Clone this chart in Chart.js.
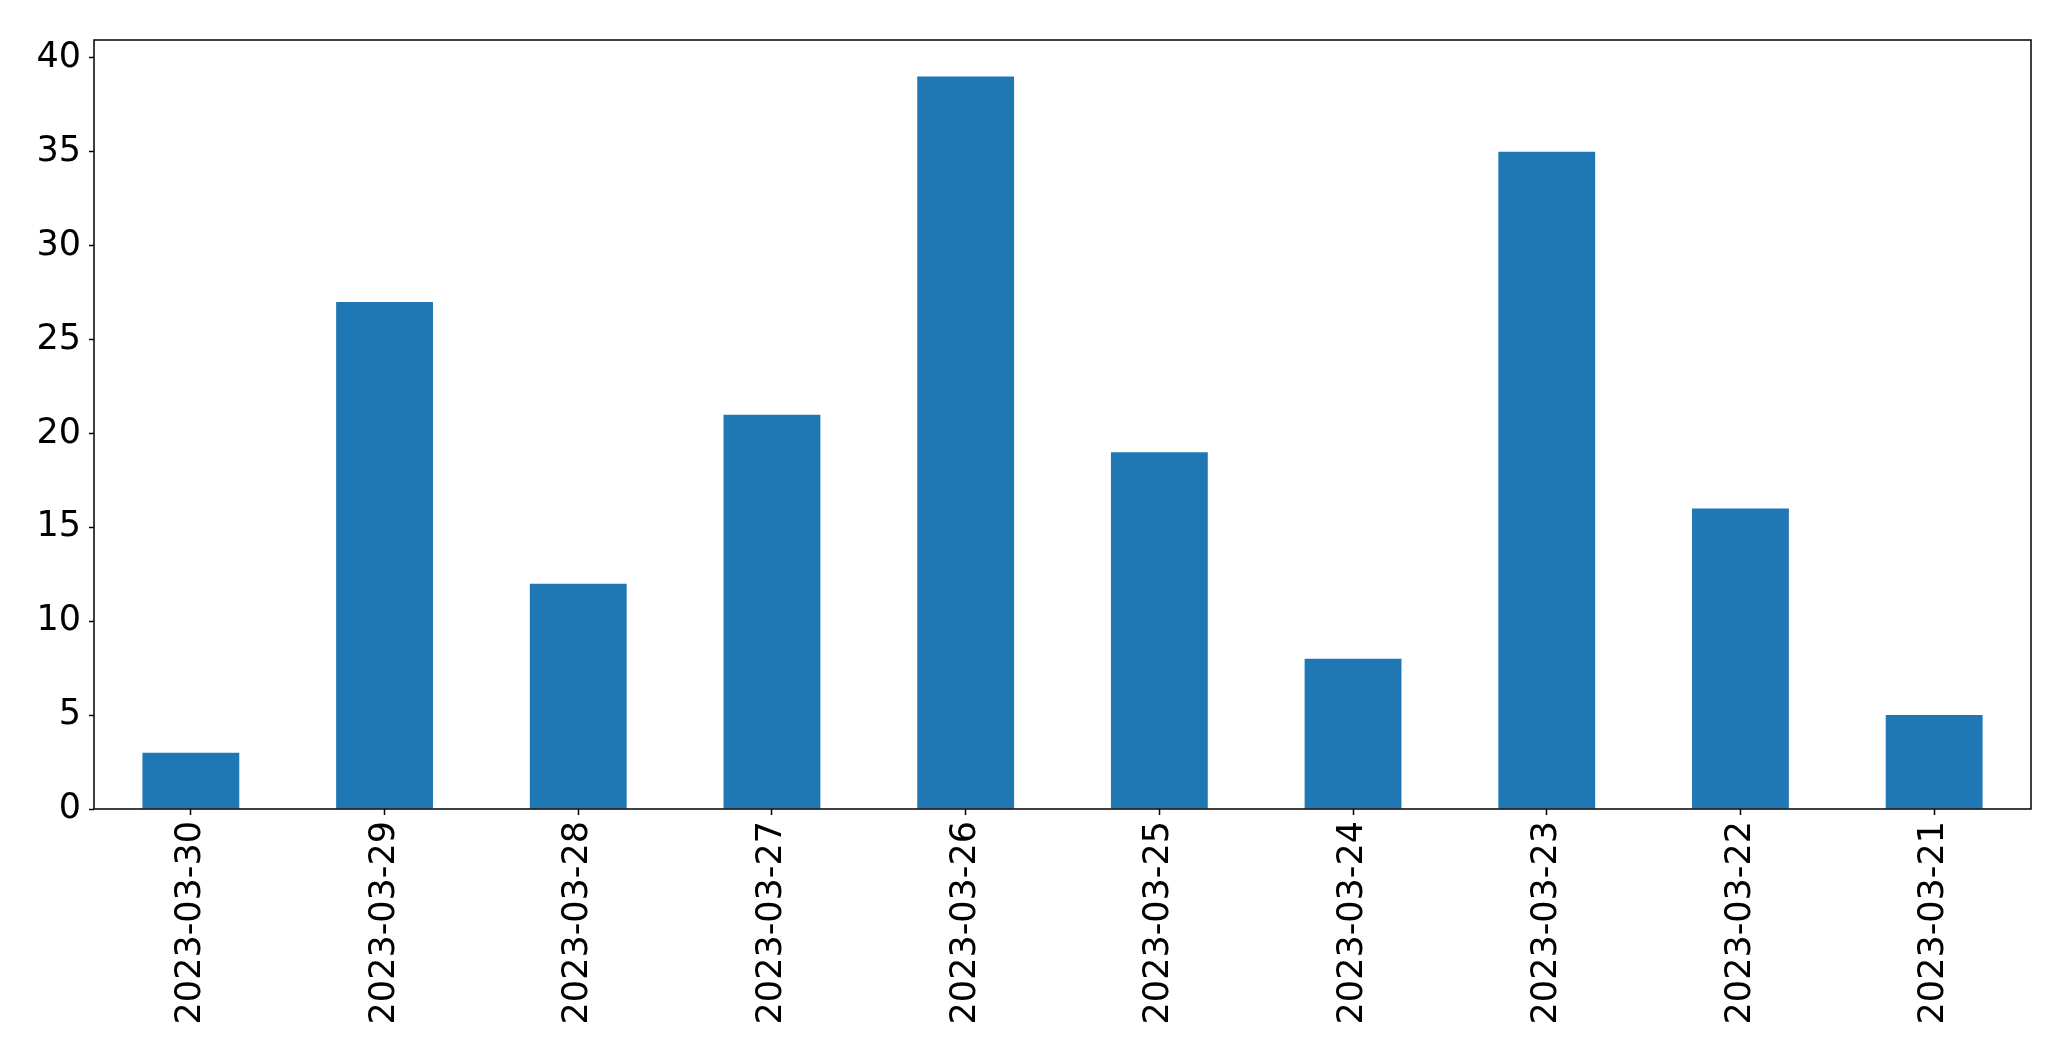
<!DOCTYPE html>
<html>
<head>
<meta charset="utf-8">
<script src="https://cdn.jsdelivr.net/npm/chart.js@4/dist/chart.umd.min.js"></script>
<style>
  html, body { margin: 0; padding: 0; background: #fff; }
  #wrap { width: 2071px; height: 1061px; }
</style>
</head>
<body>
<div id="wrap"><canvas id="chart" width="2071" height="1061"></canvas></div>
<script>
// data
const dates = ['2023-03-30', '2023-03-29', '2023-03-28', '2023-03-27', '2023-03-26',
               '2023-03-25', '2023-03-24', '2023-03-23', '2023-03-22', '2023-03-21'];
const counts = [3, 27, 12, 21, 39, 19, 8, 35, 16, 5];
const yTicks = [0, 5, 10, 15, 20, 25, 30, 35, 40];

// frame round the plot area
const boxPlugin = {
  id: 'box',
  afterDraw(chart) {
    const { ctx, chartArea: a } = chart;
    ctx.save();
    ctx.strokeStyle = '#000';
    ctx.lineWidth = 1.5;
    ctx.strokeRect(a.left, a.top, a.right - a.left, a.bottom - a.top);
    ctx.restore();
  }
};

const font = { family: 'DejaVu Sans', size: 35 };

new Chart(document.getElementById('chart'), {
  type: 'bar',
  data: {
    labels: dates,
    datasets: [{
      data: counts,
      backgroundColor: '#1f77b4',
      barPercentage: 0.5,
      categoryPercentage: 1.0
    }]
  },
  options: {
    responsive: false,
    animation: false,
    layout: { padding: { top: 40, right: 40, left: 0, bottom: 0 } },
    plugins: {
      legend: { display: false },
      tooltip: { enabled: false }
    },
    scales: {
      x: {
        offset: true,
        grid: { display: true, offset: false, drawOnChartArea: false, tickLength: 6, tickColor: '#000', tickWidth: 1.5 },
        border: { display: false },
        ticks: { color: '#000', font: font, maxRotation: 90, minRotation: 90, padding: 6, autoSkip: false },
        afterFit(scale) { scale.height = 252; }
      },
      y: {
        min: 0,
        max: 40.95,
        afterBuildTicks(scale) { scale.ticks = yTicks.map(v => ({ value: v })); },
        grid: { display: true, drawOnChartArea: false, tickLength: 5, tickColor: '#000', tickWidth: 1.5 },
        border: { display: false },
        ticks: { color: '#000', font: font, padding: 8 },
        afterFit(scale) { scale.width = 94; }
      }
    }
  },
  plugins: [boxPlugin]
});
</script>
</body>
</html>
